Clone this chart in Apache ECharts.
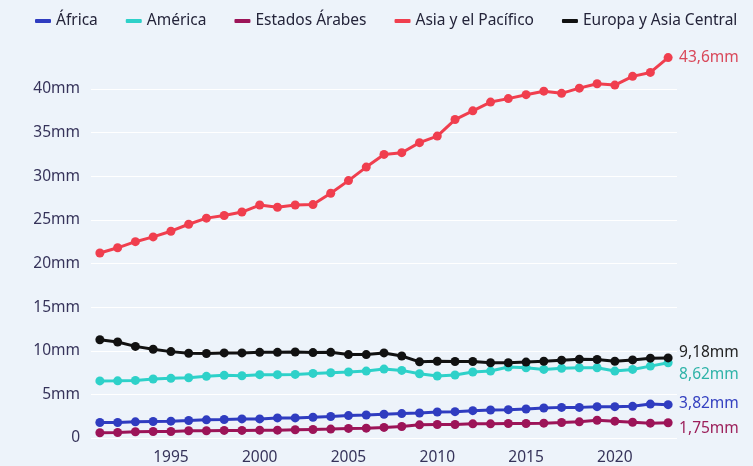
<!DOCTYPE html>
<html>
<head>
<meta charset="utf-8">
<script src="https://cdn.jsdelivr.net/npm/echarts@6/dist/echarts.min.js"></script>
<style>
  html, body { margin: 0; padding: 0; background: #edf3fa; }
  #chart { width: 753px; height: 466px; }
</style>
</head>
<body>
<div id="chart"></div>
<script>
// años 1991-2023
const years = [];
for (let y = 1991; y <= 2023; y++) years.push(String(y));

const africa = [1.77, 1.77, 1.85, 1.89, 1.93, 2.0, 2.08, 2.12, 2.19, 2.19, 2.3, 2.3, 2.38, 2.46, 2.57, 2.64, 2.72, 2.8,
  2.87, 2.98, 3.02, 3.13, 3.21, 3.25, 3.32, 3.44, 3.51, 3.51, 3.59, 3.59, 3.63, 3.89, 3.82];
const america = [6.54, 6.55, 6.6, 6.76, 6.84, 6.9, 7.07, 7.18, 7.14, 7.26, 7.26, 7.29, 7.4, 7.48, 7.56, 7.67, 7.9, 7.75,
  7.37, 7.1, 7.22, 7.56, 7.67, 8.13, 8.05, 7.86, 8.0, 8.05, 8.05, 7.67, 7.86, 8.24, 8.62];
const arabes = [0.6, 0.63, 0.71, 0.75, 0.75, 0.83, 0.83, 0.87, 0.87, 0.9, 0.9, 0.94, 0.98, 1.02, 1.1, 1.13, 1.21, 1.32,
  1.51, 1.55, 1.55, 1.62, 1.62, 1.66, 1.66, 1.7, 1.77, 1.85, 2.04, 1.93, 1.81, 1.7, 1.75];
const asia = [21.2, 21.8, 22.5, 23.05, 23.7, 24.5, 25.2, 25.5, 25.9, 26.7, 26.45, 26.7, 26.75, 28.05, 29.5, 31.05, 32.5, 32.7,
  33.85, 34.6, 36.5, 37.5, 38.5, 38.9, 39.35, 39.75, 39.5, 40.1, 40.6, 40.45, 41.45, 41.9, 43.6];
const europa = [11.26, 11.0, 10.5, 10.17, 9.9, 9.71, 9.68, 9.75, 9.75, 9.82, 9.82, 9.86, 9.79, 9.82, 9.56, 9.56, 9.75, 9.4,
  8.73, 8.8, 8.77, 8.77, 8.62, 8.62, 8.7, 8.8, 8.92, 9.03, 9.0, 8.8, 8.95, 9.15, 9.18];

const endLabels = ['3,82mm', '8,62mm', '1,75mm', '43,6mm', '9,18mm'];

const FONT = 15.5;

const chart = echarts.init(document.getElementById('chart'));

function serie(name, data, color, labelText, labelColor, dy) {
  return {
    name: name,
    type: 'line',
    data: data,
    clip: false,
    symbol: 'circle',
    symbolSize: 9,
    itemStyle: { color: color },
    lineStyle: { color: color, width: 3 },
    endLabel: {
      show: true,
      formatter: labelText,
      color: labelColor,
      fontSize: FONT,
      fontFamily: 'Noto Sans',
      distance: 11,
      offset: [0, dy]
    }
  };
}

chart.setOption({
  backgroundColor: '#edf3fa',
  animation: false,
  textStyle: { fontFamily: 'Noto Sans' },
  legend: {
    top: 8,
    left: 30,
    icon: 'roundRect',
    itemWidth: 16,
    itemHeight: 4,
    itemGap: 28,
    textStyle: { fontSize: FONT, color: '#24243a', fontFamily: 'Noto Sans' },
    data: ['África', 'América', 'Estados Árabes', 'Asia y el Pacífico', 'Europa y Asia Central']
  },
  grid: { left: 91, right: 76, top: 89, bottom: 25 },
  xAxis: {
    type: 'category',
    data: years,
    boundaryGap: true,
    axisLine: { show: false },
    axisTick: { show: false },
    axisLabel: {
      interval: function (i, v) { return Number(v) % 5 === 0; },
      fontSize: FONT,
      color: '#36335a',
      margin: 12
    },
    splitLine: { show: false }
  },
  yAxis: {
    type: 'value',
    min: 0,
    max: 40,
    interval: 5,
    axisLine: { show: false },
    axisTick: { show: false },
    axisLabel: {
      fontSize: FONT,
      color: '#36335a',
      margin: 11,
      formatter: function (v) { return v === 0 ? '0' : v + 'mm'; }
    },
    splitLine: { lineStyle: { color: '#ffffff', width: 1 } }
  },
  series: [
    serie('África', africa, '#2f3cc0', endLabels[0], '#3440c0', -1),
    serie('América', america, '#2ed1c9', endLabels[1], '#2fb3a8', 12),
    serie('Estados Árabes', arabes, '#9c1458', endLabels[2], '#9c1f5a', 6),
    serie('Asia y el Pacífico', asia, '#f03e4e', endLabels[3], '#d9485a', 0),
    serie('Europa y Asia Central', europa, '#111111', endLabels[4], '#222222', -5)
  ]
});
</script>
</body>
</html>
